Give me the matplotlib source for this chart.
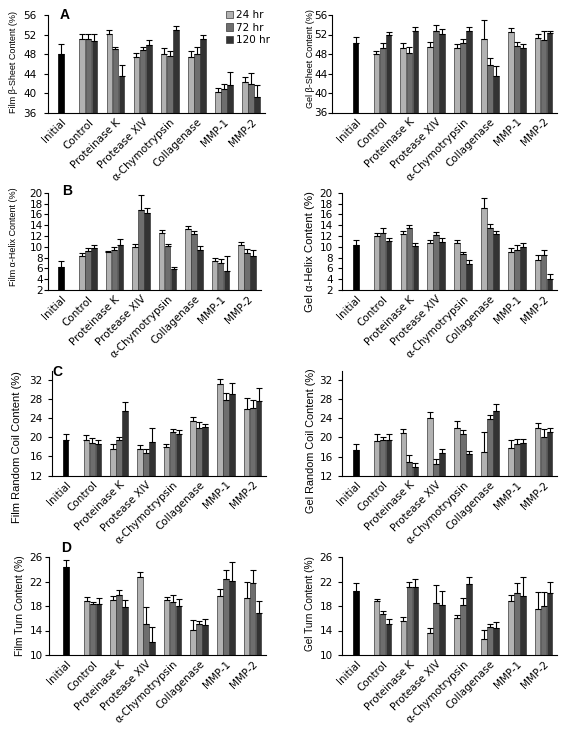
import numpy as np
import matplotlib.pyplot as plt

plt.rcParams['font.family'] = ['DejaVu Sans']
LAB_FONT = ['Liberation Sans', 'DejaVu Sans']

categories = ['Initial', 'Control', 'Proteinase K', 'Protease XIV', 'α-Chymotrypsin',
              'Collagenase', 'MMP-1', 'MMP-2']
times = ['24 hr', '72 hr', '120 hr']

# initial sample: beta-sheet, alpha-helix, random coil, turn
initial_film = [48.1, 6.3, 19.55, 24.35]
initial_film_err = [2.0, 1.05, 1.25, 1.1]
initial_gel = [50.2, 10.25, 17.35, 20.4]
initial_gel_err = [1.2, 0.95, 1.2, 1.3]

# rows: 24 hr, 72 hr, 120 hr ; columns: Control ... MMP-2
film_sheet = [[51.2, 52.1, 47.5, 48.0, 47.5, 40.2, 42.4],
              [51.2, 49.0, 48.9, 47.6, 48.0, 40.8, 42.0],
              [50.7, 43.5, 49.9, 52.9, 51.0, 41.65, 39.2]]
film_sheet_err = [[0.9, 0.9, 0.8, 1.2, 1.2, 1.0, 0.9],
                  [0.9, 0.5, 0.5, 1.0, 1.5, 1.1, 2.1],
                  [1.4, 2.3, 1.05, 0.8, 0.85, 2.75, 2.6]]

gel_sheet = [[48.0, 49.2, 49.5, 49.2, 51.1, 52.5, 51.2],
             [49.15, 48.2, 52.7, 50.3, 45.8, 49.6, 50.9],
             [52.0, 52.7, 52.2, 52.7, 43.4, 49.2, 52.3]]
gel_sheet_err = [[0.7, 1.0, 0.9, 0.9, 3.9, 0.8, 1.0],
                 [1.15, 1.2, 1.2, 0.8, 1.4, 0.85, 1.9],
                 [0.6, 0.8, 0.9, 0.9, 2.1, 0.9, 0.5]]

film_helix = [[8.2, 9.1, 9.9, 12.6, 13.2, 7.3, 10.25],
              [9.2, 9.4, 16.8, 10.1, 12.3, 7.05, 8.9],
              [9.8, 10.4, 16.2, 5.9, 9.4, 5.6, 8.2]]
film_helix_err = [[0.6, 0.2, 0.6, 0.5, 0.6, 0.7, 0.65],
                  [0.6, 0.55, 2.8, 0.5, 0.7, 0.65, 0.7],
                  [0.6, 1.0, 1.0, 0.3, 0.7, 2.6, 1.2]]

gel_helix = [[11.9, 12.3, 10.75, 10.7, 17.1, 9.0, 7.55],
             [12.5, 13.4, 12.1, 8.6, 13.4, 9.4, 8.5],
             [11.05, 10.2, 10.8, 6.9, 12.3, 9.95, 4.0]]
gel_helix_err = [[0.6, 0.55, 0.55, 0.55, 2.0, 0.7, 0.85],
                 [1.0, 0.7, 0.6, 0.4, 0.9, 0.85, 0.9],
                 [0.5, 0.55, 0.75, 0.65, 0.6, 0.75, 0.9]]

film_coil = [[19.55, 17.65, 17.6, 18.0, 23.5, 31.1, 26.05],
             [18.85, 19.35, 16.75, 21.1, 22.0, 27.9, 26.2],
             [18.7, 25.5, 19.1, 20.7, 22.1, 29.0, 27.65]]
film_coil_err = [[0.85, 1.05, 0.7, 0.7, 0.7, 1.1, 2.1],
                 [1.1, 0.7, 0.9, 0.7, 1.3, 1.4, 1.7],
                 [0.7, 2.0, 2.8, 0.8, 0.6, 2.3, 2.8]]

gel_coil = [[19.25, 20.85, 24.0, 21.9, 17.0, 17.8, 22.05],
            [19.4, 14.9, 14.35, 20.7, 23.9, 18.7, 20.0],
            [19.45, 13.75, 16.75, 16.45, 25.45, 18.75, 21.05]]
gel_coil_err = [[1.4, 0.85, 1.25, 1.45, 4.25, 1.6, 1.05],
                [0.75, 1.5, 1.2, 0.8, 0.9, 0.95, 1.8],
                [1.35, 0.9, 0.8, 0.65, 1.55, 0.9, 0.85]]

film_turn = [[18.85, 19.0, 22.7, 19.0, 14.15, 19.7, 19.35],
             [18.3, 19.8, 15.0, 18.6, 15.1, 22.4, 21.7],
             [18.35, 17.8, 12.2, 17.95, 14.9, 22.05, 16.9]]
film_turn_err = [[0.55, 0.65, 0.9, 0.5, 1.55, 1.05, 2.65],
                 [0.4, 0.85, 2.9, 1.2, 0.5, 1.45, 2.2],
                 [0.95, 1.2, 2.3, 1.15, 0.95, 3.15, 1.9]]

gel_turn = [[18.8, 15.55, 13.55, 16.0, 12.55, 18.85, 17.5],
            [16.7, 21.1, 18.45, 18.1, 14.6, 20.2, 18.05],
            [15.0, 21.1, 18.1, 21.55, 14.45, 19.7, 20.2]]
gel_turn_err = [[0.4, 0.65, 0.9, 0.55, 1.6, 0.9, 2.75],
                [0.5, 0.8, 2.95, 1.2, 0.5, 1.5, 2.25],
                [0.85, 1.3, 2.3, 1.25, 0.9, 3.1, 1.8]]

bar_colors = ['#b2b2b2', '#6e6e6e', '#333333']
init_color = '#000000'

W, H = 566, 735
fig = plt.figure(figsize=(W / 100, H / 100), dpi=100)


def make_axes(x0, x1, ytop, ybot):
    return fig.add_axes([x0 / W, 1 - ybot / H, (x1 - x0) / W, (ybot - ytop) / H])


def draw_panel(ax, means, errs, init, init_err, ylim, yticks, ylabel, lab_x, lab_y,
               lab_size=6.5, tick_pad=2.0, extra=0.0):
    x = np.arange(1, 8)
    w = 0.21
    off = 0.225
    for i in range(3):
        ax.bar(x + (i - 1) * off, means[i], w, color=bar_colors[i], edgecolor='#3a3a3a',
               linewidth=0.5, label=times[i], zorder=2)
        ax.errorbar(x + (i - 1) * off, means[i], yerr=[np.zeros(7), errs[i]], fmt='none',
                    ecolor='black', elinewidth=0.8, capsize=2, capthick=0.8, zorder=3)
    ax.bar([0], [init], w, color=init_color, edgecolor='black', linewidth=0.5, zorder=2)
    ax.errorbar([0], [init], yerr=[[0], [init_err]], fmt='none', ecolor='black',
                elinewidth=0.8, capsize=2, capthick=0.8, zorder=3)
    ax.set_xlim(-0.5 - extra, 7.5)
    ax.set_ylim(*ylim)
    ax.set_yticks(yticks)
    ax.set_xticks(range(8))
    ax.set_xticklabels(categories, rotation=45, ha='right', rotation_mode='anchor', fontsize=7.5)
    ax.tick_params(axis='x', length=0, pad=3)
    ax.tick_params(axis='y', direction='out', length=3, width=0.8, labelsize=7.5, pad=tick_pad)
    for s in ['top', 'right']:
        ax.spines[s].set_visible(False)
    ax.spines['left'].set_linewidth(0.8)
    ax.spines['bottom'].set_linewidth(0.8)
    ax.set_ylabel(ylabel, fontsize=lab_size, family=LAB_FONT)
    ax.yaxis.set_label_coords(lab_x / W, 1 - lab_y / H, transform=fig.transFigure)


# Row A: beta sheet
axA = make_axes(47.7, 264.6, 15, 113)
draw_panel(axA, film_sheet, film_sheet_err, initial_film[0], initial_film_err[0],
           (36, 56), range(36, 57, 4), 'Film β-Sheet Content (%)', 18.5, 62,
           lab_size=6.5, tick_pad=5)
axA2 = make_axes(332.3, 557, 15, 112.5)
draw_panel(axA2, gel_sheet, gel_sheet_err, initial_gel[0], initial_gel_err[0],
           (36, 56), range(36, 57, 4), 'Gel β-Sheet Content (%)', 314.7, 59,
           lab_size=6.5, tick_pad=0.6, extra=0.37)
axA.legend(loc='upper left', bbox_to_anchor=(0.82, 1.05), frameon=False, fontsize=7.5,
           handlelength=0.7, handleheight=0.7, handletextpad=0.3, labelspacing=0.25,
           borderpad=0, borderaxespad=0)

# Row B: alpha helix
axB = make_axes(48, 260.5, 192.7, 290)
draw_panel(axB, film_helix, film_helix_err, initial_film[1], initial_film_err[1],
           (2, 20), range(2, 21, 2), 'Film α-Helix Content (%)', 18.3, 237,
           lab_size=6.5, tick_pad=0.8)
axB2 = make_axes(342.3, 557, 192.7, 290)
draw_panel(axB2, gel_helix, gel_helix_err, initial_gel[1], initial_gel_err[1],
           (2, 20), range(2, 21, 2), 'Gel α-Helix Content (%)', 315, 252,
           lab_size=8.2, tick_pad=4)

# Row C: random coil
axC = make_axes(52.3, 266, 370.6, 475.5)
draw_panel(axC, film_coil, film_coil_err, initial_film[2], initial_film_err[2],
           (12, 34), range(12, 33, 4), 'Film Random Coil Content (%)', 21.7, 447,
           lab_size=8, tick_pad=3.8)
axC2 = make_axes(342.3, 557, 370.6, 475.7)
draw_panel(axC2, gel_coil, gel_coil_err, initial_gel[2], initial_gel_err[2],
           (12, 34), range(12, 33, 4), 'Gel Random Coil Content (%)', 316, 441,
           lab_size=7.8, tick_pad=4)

# Row D: turn
axD = make_axes(49, 266, 557, 655)
draw_panel(axD, film_turn, film_turn_err, initial_film[3], initial_film_err[3],
           (10, 26), range(10, 27, 4), 'Film Turn Content (%)', 25, 606,
           lab_size=7.4, tick_pad=1.6, extra=0.13)
axD2 = make_axes(342.3, 557, 557, 655)
draw_panel(axD2, gel_turn, gel_turn_err, initial_gel[3], initial_gel_err[3],
           (10, 26), range(10, 27, 4), 'Gel Turn Content (%)', 314.7, 604,
           lab_size=7.2, tick_pad=4)

# panel letters
for letter, px, py in [('A', 65, 15), ('B', 66.7, 191), ('C', 57.3, 372), ('D', 66, 548)]:
    fig.text(px / W, 1 - py / H, letter, fontsize=10, fontweight='bold', family=LAB_FONT,
             ha='center', va='center')

fig.savefig('out.png', dpi=100)
